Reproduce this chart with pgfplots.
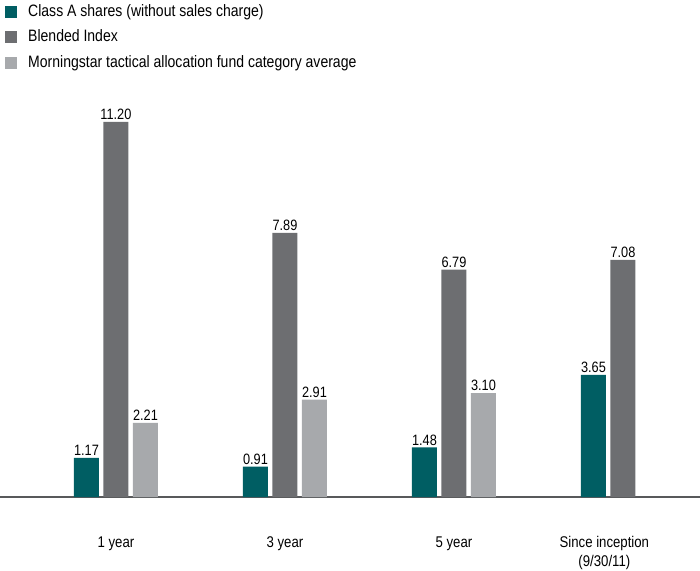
\documentclass[border=0pt]{standalone}
\usepackage{fontspec}
\setmainfont{Liberation Sans}[FakeStretch=0.85]
\usepackage{pgfplots}
\pgfplotsset{compat=1.18}
\definecolor{cteal}{HTML}{005E63}
\definecolor{cdark}{HTML}{6D6E71}
\definecolor{clight}{HTML}{A7A9AC}
\definecolor{cbase}{HTML}{58595B}
\begin{document}
\begin{tikzpicture}[x=1pt,y=1pt]
\useasboundingbox (0,-73) rectangle (700,497);
\begin{axis}[
  at={(0pt,0pt)}, anchor=south west,
  scale only axis, width=700pt, height=497pt,
  xmin=-0.686, xmax=3.456, ymin=0, ymax=14.84,
  axis x line=bottom, axis y line=none,
  x axis line style={-, draw=cbase, line width=1.3pt},
  ytick=\empty,
  xtick={0,1,2,2.89},
  xticklabels={1 year,3 year,5 year,{Since inception\\(9/30/11)}},
  xticklabel style={align=center, anchor=north, yshift=-36pt, font=\fontsize{15.5}{18.5}\selectfont},
  major tick length=0pt,
  ybar=4.5pt, bar width=25pt,
  point meta=explicit symbolic,
  nodes near coords,
  every node near coord/.append style={font=\fontsize{15}{16}\selectfont, inner sep=2pt, text=black},
  legend image code/.code={\fill[#1] (0pt,-6pt) rectangle (12pt,6pt);},
  legend style={at={(0,1)}, anchor=north west, xshift=5pt, yshift=-2pt, draw=none, fill=none,
    font=\fontsize{16.5}{18}\selectfont, row sep=6pt, inner sep=0pt,
    /tikz/every odd column/.append style={column sep=9pt},
    nodes={inner sep=2pt, text height=12pt, text depth=3.5pt}},
  legend cell align=left,
]
\addplot[fill=cteal, draw=none] coordinates {(0,1.17) [1.17] (1,0.91) [0.91] (2,1.48) [1.48] (3,3.65) [3.65]};
\addlegendentry{Class A shares (without sales charge)}
\addplot[fill=cdark, draw=none] coordinates {(0,11.20) [11.20] (1,7.89) [7.89] (2,6.79) [6.79] (3,7.08) [7.08]};
\addlegendentry{Blended Index}
\addplot[fill=clight, draw=none] coordinates {(0,2.21) [2.21] (1,2.91) [2.91] (2,3.10) [3.10]};
\addlegendentry{Morningstar tactical allocation fund category average}
\end{axis}
\end{tikzpicture}
\end{document}
